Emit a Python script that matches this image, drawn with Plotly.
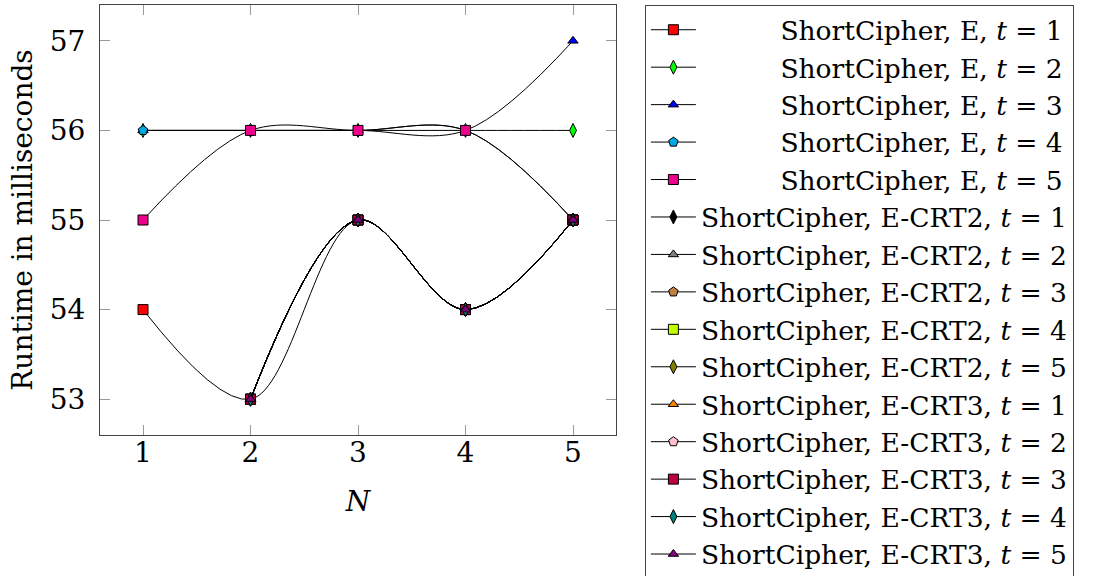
import plotly.graph_objects as go

# ---- data ----
N_E = [1, 2, 3, 4, 5]
N_CRT = [2, 3, 4, 5]

E_T1 = [54, 53, 55, 54, 55]
E_T2 = [56, 56, 56, 56, 56]
E_T3 = [56, 56, 56, 56, 57]
E_T4 = [56, 56, 56, 56, 55]
E_T5 = [55, 56, 56, 56, 55]

CRT2_T1 = [53, 55, 54, 55]
CRT2_T2 = [53, 55, 54, 55]
CRT2_T3 = [53, 55, 54, 55]
CRT2_T4 = [53, 55, 54, 55]
CRT2_T5 = [53, 55, 54, 55]

CRT3_T1 = [53, 55, 54, 55]
CRT3_T2 = [53, 55, 54, 55]
CRT3_T3 = [53, 55, 54, 55]
CRT3_T4 = [53, 55, 54, 55]
CRT3_T5 = [53, 55, 54, 55]

X_TICKS = [1, 2, 3, 4, 5]
Y_TICKS = [53, 54, 55, 56, 57]

VARIANTS = ["E", "E", "E", "E", "E",
            "E-CRT2", "E-CRT2", "E-CRT2", "E-CRT2", "E-CRT2",
            "E-CRT3", "E-CRT3", "E-CRT3", "E-CRT3", "E-CRT3"]
T_VALUES = [1, 2, 3, 4, 5, 1, 2, 3, 4, 5, 1, 2, 3, 4, 5]
X_DATA = [N_E] * 5 + [N_CRT] * 10
Y_DATA = [E_T1, E_T2, E_T3, E_T4, E_T5,
          CRT2_T1, CRT2_T2, CRT2_T3, CRT2_T4, CRT2_T5,
          CRT3_T1, CRT3_T2, CRT3_T3, CRT3_T4, CRT3_T5]

# ---- styles ----
COLORS = ["#FF0000", "#00FF00", "#0000FF", "#00A9E6", "#EC008C",
          "#000000", "#808080", "#BF8040", "#BFFF00", "#808000",
          "#FF8000", "#FFC0CB", "#BF0040", "#008080", "#800080"]
SYMBOLS = ["square", "diamond-tall", "triangle-up", "pentagon", "square",
           "diamond-tall", "triangle-up", "pentagon", "square", "diamond-tall",
           "triangle-up", "pentagon", "square", "diamond-tall", "triangle-up"]
SIZES = {"square": 10, "diamond-tall": 10, "triangle-up": 9, "pentagon": 10}

FONT = "DejaVu Serif"
PAD = "\u2002" * 6

fig = go.Figure()
for i in range(15):
    prefix = PAD if VARIANTS[i] == "E" else ""
    name = f"{prefix}ShortCipher, {VARIANTS[i]}, <i>t</i> = {T_VALUES[i]}"
    fig.add_trace(go.Scatter(
        x=X_DATA[i], y=Y_DATA[i], name=name,
        mode="lines+markers",
        line=dict(color="black", width=1, shape="spline", smoothing=1),
        marker=dict(symbol=SYMBOLS[i], size=SIZES[SYMBOLS[i]], color=COLORS[i],
                    line=dict(color="black", width=1)),
    ))

axis_common = dict(
    showline=True, linecolor="#444444", linewidth=1, mirror="allticks",
    ticks="inside", ticklen=10, tickcolor="#9a9a9a", tickwidth=1,
    showgrid=False, zeroline=False,
    tickfont=dict(family=FONT, size=28, color="black"),
)

fig.update_layout(
    width=1101, height=576,
    margin=dict(l=100, r=485, t=5, b=141, autoexpand=False),
    paper_bgcolor="white", plot_bgcolor="white",
    font=dict(family=FONT, color="black"),
    xaxis=dict(range=[0.6, 5.4], tickvals=X_TICKS, ticklabelstandoff=-8,
               title=dict(text="<i>N</i>", font=dict(family=FONT, size=28), standoff=23),
               **axis_common),
    yaxis=dict(range=[52.6, 57.4], tickvals=Y_TICKS, ticklabelstandoff=8,
               title=dict(text="Runtime in milliseconds", font=dict(family=FONT, size=28), standoff=8),
               **axis_common),
    legend=dict(x=1.056, xanchor="left", yref="container", y=1 - 5 / 576, yanchor="top",
                maxheight=576,
                bordercolor="#444444", borderwidth=1, bgcolor="white",
                font=dict(family=FONT, size=26.5, color="black"),
                itemwidth=45, tracegroupgap=0),
    showlegend=True,
)

fig.write_html("out.html")
